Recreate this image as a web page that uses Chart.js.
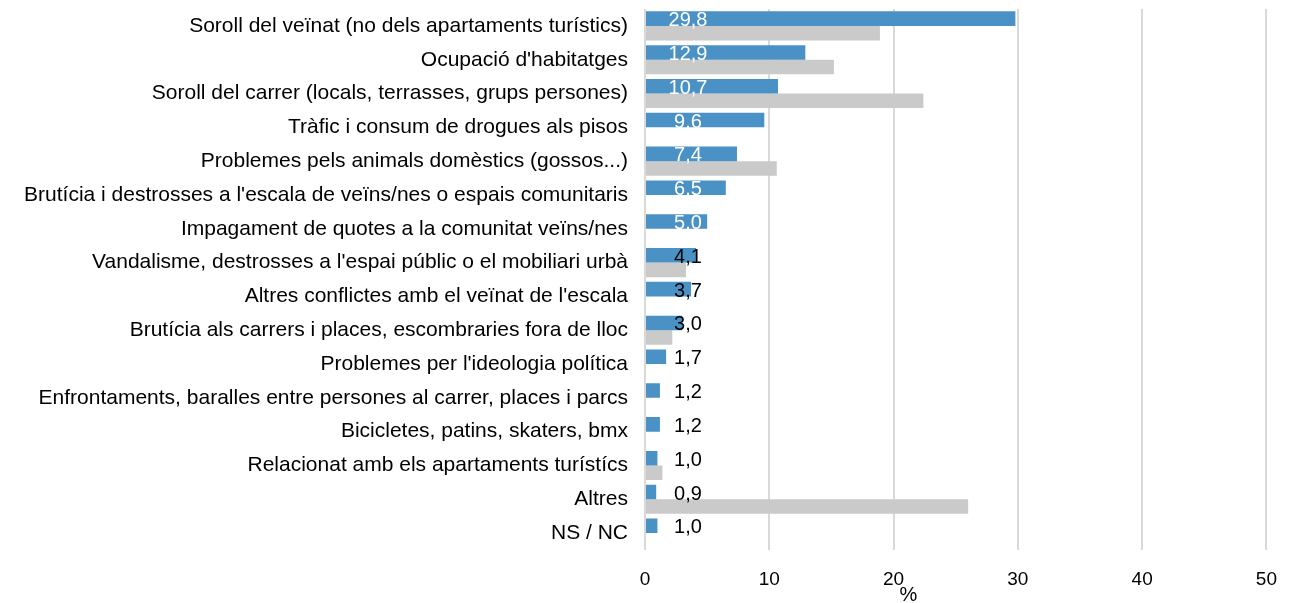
<!DOCTYPE html>
<html>
<head>
<meta charset="utf-8">
<script src="https://cdn.jsdelivr.net/npm/chart.js@4.4.1/dist/chart.umd.min.js"></script>
<style>
  html, body { margin: 0; padding: 0; background: #fff; }
  #wrap { width: 1295px; height: 603px; }
</style>
</head>
<body>
<div id="wrap"><canvas id="barChart"></canvas></div>
<script>
// Categories (top to bottom)
var categories = [
  'Soroll del veïnat (no dels apartaments turístics)',
  "Ocupació d'habitatges",
  'Soroll del carrer (locals, terrasses, grups persones)',
  'Tràfic i consum de drogues als pisos',
  'Problemes pels animals domèstics (gossos...)',
  "Brutícia i destrosses a l'escala de veïns/nes o espais comunitaris",
  'Impagament de quotes a la comunitat veïns/nes',
  "Vandalisme, destrosses a l'espai públic o el mobiliari urbà",
  "Altres conflictes amb el veïnat de l'escala",
  'Brutícia als carrers i places, escombraries fora de lloc',
  "Problemes per l'ideologia política",
  'Enfrontaments, baralles entre persones al carrer, places i parcs',
  'Bicicletes, patins, skaters, bmx',
  'Relacionat amb els apartaments turístícs',
  'Altres',
  'NS / NC'
];

// Current series (blue, labelled)
var valuesBlue = [29.8, 12.9, 10.7, 9.6, 7.4, 6.5, 5.0, 4.1, 3.7, 3.0, 1.7, 1.2, 1.2, 1.0, 0.9, 1.0];
// Comparison series (grey), null where there is no bar
var valuesGrey = [18.9, 15.2, 22.4, null, 10.6, null, null, 3.3, null, 2.2, null, null, null, 1.4, 26.0, null];
// Rows whose label uses a point instead of a comma
var pointRows = [3, 5, 6];

var xTicks = [0, 10, 20, 30, 40, 50];

var BLUE = '#4a91c5';
var GREY = '#cacaca';
var FONT = "'Liberation Sans', Arial, sans-serif";

function labelText(i) {
  var s = valuesBlue[i].toFixed(1);
  return pointRows.indexOf(i) >= 0 ? s : s.replace('.', ',');
}

// value labels for the blue bars + axis unit
var valueLabels = {
  id: 'valueLabels',
  afterDatasetsDraw: function (chart) {
    var ctx = chart.ctx;
    var xs = chart.scales.x;
    var meta = chart.getDatasetMeta(0);
    ctx.save();
    ctx.font = '20px ' + FONT;
    ctx.textAlign = 'center';
    ctx.textBaseline = 'middle';
    meta.data.forEach(function (bar, i) {
      ctx.fillStyle = valuesBlue[i] >= 5 ? '#ffffff' : '#000000';
      ctx.fillText(labelText(i), xs.getPixelForValue(0) + 43, bar.y + 2);
    });
    ctx.fillStyle = '#000';
    ctx.fillText('%', xs.getPixelForValue(21.2), chart.chartArea.bottom + 45);
    ctx.restore();
  }
};

var ctx = document.getElementById('barChart').getContext('2d');
var myChart = new Chart(ctx, {
  type: 'bar',
  data: {
    labels: categories,
    datasets: [{
      label: 'Blau',
      data: valuesBlue,
      backgroundColor: BLUE,
      barPercentage: 1,
      categoryPercentage: 0.86
    }, {
      label: 'Gris',
      data: valuesGrey,
      backgroundColor: GREY,
      barPercentage: 1,
      categoryPercentage: 0.86
    }]
  },
  options: {
    indexAxis: 'y',
    responsive: true,
    maintainAspectRatio: false,
    animation: false,
    layout: { padding: { top: 9, right: 19, left: 0, bottom: 0 } },
    plugins: {
      legend: { display: false },
      tooltip: { enabled: false }
    },
    scales: {
      x: {
        min: 0,
        max: 50,
        afterBuildTicks: function (scale) {
          scale.ticks = xTicks.map(function (v) { return { value: v }; });
        },
        afterFit: function (scale) { scale.height = 53; },
        grid: { color: '#d9d9d9', lineWidth: 2, drawTicks: false },
        border: { display: false },
        ticks: { color: '#000', font: { family: FONT, size: 19 }, padding: 18 }
      },
      y: {
        afterFit: function (scale) {
          scale.width = 645;
          scale.paddingTop = 0;
          scale.paddingBottom = 0;
        },
        grid: { display: false, drawTicks: false },
        border: { display: false },
        ticks: { color: '#000', font: { family: FONT, size: 21 }, padding: 17, autoSkip: false }
      }
    }
  },
  plugins: [valueLabels]
});
</script>
</body>
</html>
